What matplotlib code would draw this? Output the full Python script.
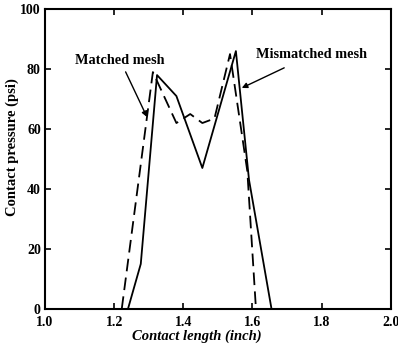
import matplotlib
matplotlib.use("Agg")
import matplotlib.pyplot as plt

# solid curve (mismatched mesh)
x_mis = [1.24, 1.277, 1.324, 1.38, 1.455, 1.552, 1.59, 1.655]
p_mis = [0, 15, 78, 71, 47, 86, 43, 0]

# dashed curve (matched mesh)
x_mat = [1.222, 1.312, 1.38, 1.42, 1.455, 1.49, 1.535, 1.585, 1.61]
p_mat = [0, 79, 62, 65, 62, 63.5, 85, 46, 0]

xticks = [1.0, 1.2, 1.4, 1.6, 1.8, 2.0]
yticks = [0, 20, 40, 60, 80, 100]

plt.rcParams['font.family'] = ['Liberation Serif', 'DejaVu Serif']
plt.rcParams['font.weight'] = 'bold'

fig = plt.figure(figsize=(3.98, 3.51), dpi=100)
ax = fig.add_axes([0.113, 0.12, 0.869, 0.854])

ax.plot(x_mis, p_mis, color='black', lw=1.3)
ax.plot(x_mat, p_mat, color='black', lw=1.3, dashes=(7, 3.5))

ax.set_xlim(1.0, 2.0)
ax.set_ylim(0, 100)
ax.set_xticks(xticks)
ax.set_yticks(yticks)
ax.set_xticklabels(["%.1f" % t for t in xticks], fontsize=10, fontweight='bold')
ax.set_yticklabels([str(t) for t in yticks], fontsize=10, fontweight='bold')
ax.tick_params(direction='in', length=4, width=1.2, top=True, right=True, pad=3)
ax.tick_params(axis='x', pad=5)
for s in ax.spines.values():
    s.set_linewidth(1.5)

ax.set_xlabel("Contact length (inch)", fontsize=10.5, fontweight='bold', style='italic')
ax.xaxis.set_label_coords(0.44, -0.068)
ax.set_ylabel("Contact pressure (psi)", fontsize=10.5, fontweight='bold')
ax.yaxis.set_label_coords(-0.075, 0.54)

ax.annotate("Matched mesh", xy=(1.295, 64), xytext=(1.217, 83),
            ha='center', va='center', fontsize=10.3, fontweight='bold',
            arrowprops=dict(arrowstyle='-|>', color='black', lw=1, shrinkA=2, shrinkB=0,
                            mutation_scale=8))
ax.annotate("Mismatched mesh", xy=(1.569, 73.7), xytext=(1.77, 84.7),
            ha='center', va='center', fontsize=10.3, fontweight='bold',
            arrowprops=dict(arrowstyle='-|>', color='black', lw=1, shrinkA=6, shrinkB=0,
                            mutation_scale=8))

fig.savefig("out.png", dpi=100)
